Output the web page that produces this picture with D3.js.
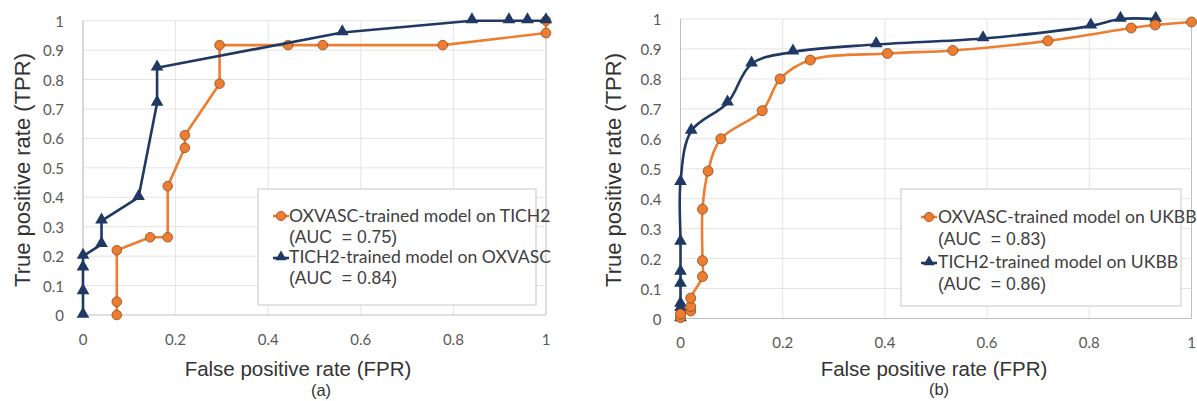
<!DOCTYPE html>
<html>
<head>
<meta charset="utf-8">
<script src="https://cdn.jsdelivr.net/npm/d3@7"></script>
<style>
  body { margin: 0; background: #fff; }
  text { white-space: pre; }
</style>
</head>
<body>
<svg id="chart" width="1197" height="401"></svg>
<script>
// panel (a): OXVASC model on TICH2 / TICH2 model on OXVASC
var fprOxvascOnTich2 = [0.073, 0.073, 0.073, 0.145, 0.183, 0.183, 0.22, 0.22, 0.295, 0.295, 0.443, 0.518, 0.777, 1.0, 1.0];
var tprOxvascOnTich2 = [0.0, 0.045, 0.22, 0.264, 0.264, 0.438, 0.568, 0.611, 0.786, 0.917, 0.917, 0.917, 0.917, 0.958, 1.0];
var fprTich2OnOxvasc = [0, 0, 0, 0, 0.04, 0.04, 0.12, 0.16, 0.16, 0.56, 0.84, 0.92, 0.96, 1.0];
var tprTich2OnOxvasc = [0, 0.08, 0.16, 0.2, 0.24, 0.32, 0.4, 0.72, 0.84, 0.96, 1.0, 1.0, 1.0, 1.0];

// panel (b): both models on UKBB
var fprOxvascOnUkbb = [0, 0, 0.02, 0.02, 0.02, 0.043, 0.043, 0.043, 0.054, 0.079, 0.16, 0.195, 0.254, 0.405, 0.533, 0.719, 0.882, 0.929, 1.0];
var tprOxvascOnUkbb = [0.003, 0.015, 0.025, 0.04, 0.068, 0.14, 0.193, 0.365, 0.492, 0.6, 0.694, 0.8, 0.863, 0.885, 0.895, 0.927, 0.97, 0.98, 0.99];
var fprTich2OnUkbb = [0, 0, 0, 0, 0, 0, 0, 0.021, 0.092, 0.139, 0.22, 0.383, 0.592, 0.803, 0.861, 0.93];
var tprTich2OnUkbb = [0, 0.034, 0.048, 0.115, 0.155, 0.255, 0.455, 0.626, 0.72, 0.85, 0.89, 0.915, 0.935, 0.977, 1.0, 1.0];

var xTicks = [0, 0.2, 0.4, 0.6, 0.8, 1];
var yTicks = [0, 0.1, 0.2, 0.3, 0.4, 0.5, 0.6, 0.7, 0.8, 0.9, 1];

var legendA = ["OXVASC-trained model on TICH2", "(AUC  = 0.75)", "TICH2-trained model on OXVASC", "(AUC  = 0.84)"];
var legendB = ["OXVASC-trained model on UKBB", "(AUC  = 0.83)", "TICH2-trained model on UKBB", "(AUC  = 0.86)"];

var orange = "#ED7D31", navy = "#1F3864";
var svg = d3.select("#chart");

var zip = function(xs, ys) { return xs.map(function(x, i) { return [x, ys[i]]; }); };

var drawPanel = function(p)
{
  var x = d3.scaleLinear().domain([0, 1]).range([p.left, p.right]);
  var y = d3.scaleLinear().domain([0, 1]).range([p.bottom, p.top]);
  var g = svg.append("g");

  // grid
  g.selectAll(".vg").data(xTicks).enter().append("line")
    .attr("x1", function(d) { return x(d); }).attr("x2", function(d) { return x(d); })
    .attr("y1", p.top).attr("y2", p.bottom)
    .attr("stroke", function(d) { return d == 1 ? "#bfbfbf" : "#e3e3e3"; }).attr("stroke-width", 1);
  g.selectAll(".hg").data(yTicks).enter().append("line")
    .attr("x1", p.left).attr("x2", p.right)
    .attr("y1", function(d) { return y(d); }).attr("y2", function(d) { return y(d); })
    .attr("stroke", function(d) { return d == 0 ? "#bfbfbf" : "#e3e3e3"; }).attr("stroke-width", 1);
  g.append("line").attr("x1", p.left).attr("x2", p.left).attr("y1", p.top).attr("y2", p.bottom)
    .attr("stroke", "#bfbfbf");

  // tick labels
  g.selectAll(".xt").data(xTicks).enter().append("text")
    .attr("x", function(d) { return x(d); }).attr("y", p.xTickY)
    .attr("text-anchor", "middle").attr("dominant-baseline", "central")
    .attr("font-family", "Lato, 'Open Sans', sans-serif").attr("font-size", 15).attr("fill", "#595959")
    .text(function(d) { return d3.format("~g")(d); });
  g.selectAll(".yt").data(yTicks).enter().append("text")
    .attr("x", p.left - 19).attr("y", function(d) { return y(d); })
    .attr("text-anchor", "end").attr("dominant-baseline", "central")
    .attr("font-family", "Lato, 'Open Sans', sans-serif").attr("font-size", 15).attr("fill", "#595959")
    .text(function(d) { return d3.format("~g")(d); });

  // axis titles
  g.append("text").attr("x", p.xTitleX).attr("y", 368)
    .attr("text-anchor", "middle").attr("dominant-baseline", "central")
    .attr("font-family", "'Liberation Sans', Arial, sans-serif").attr("font-size", 20.5).attr("fill", "#333")
    .text("False positive rate (FPR)");
  g.append("text").attr("transform", "translate(" + p.yTitleX + ",170) rotate(-90)")
    .attr("text-anchor", "middle")
    .attr("font-family", "'Liberation Sans', Arial, sans-serif").attr("font-size", 22).attr("fill", "#333")
    .text("True positive rate (TPR)");
  g.append("text").attr("x", p.capX).attr("y", p.capY)
    .attr("text-anchor", "middle").attr("dominant-baseline", "central")
    .attr("font-family", "'Liberation Sans', Arial, sans-serif").attr("font-size", 16.5).attr("fill", "#333")
    .text(p.caption);

  var line = d3.line()
    .x(function(d) { return x(d[0]); })
    .y(function(d) { return y(d[1]); })
    .curve(p.smooth ? d3.curveCatmullRom.alpha(0.5) : d3.curveLinear);

  var tri = d3.symbol().type(d3.symbolTriangle).size(p.triSize);

  var drawSeries = function(s)
  {
    var pts = zip(s.xs, s.ys);
    g.append("path").datum(pts).attr("d", line)
      .attr("fill", "none").attr("stroke", s.color).attr("stroke-width", 2.6)
      .attr("stroke-linejoin", "round");
    if (s.kind == "circle") {
      g.selectAll(null).data(pts).enter().append("circle")
        .attr("cx", function(d) { return x(d[0]); }).attr("cy", function(d) { return y(d[1]); })
        .attr("r", p.circR).attr("fill", orange).attr("stroke", "#8f4a1c").attr("stroke-width", 0.8);
    } else {
      g.selectAll(null).data(pts).enter().append("path")
        .attr("d", tri)
        .attr("transform", function(d) { return "translate(" + x(d[0]) + "," + (y(d[1]) - 1) + ")"; })
        .attr("fill", navy);
    }
  };
  p.series.forEach(drawSeries);

  // legend
  var L = p.legend;
  g.append("rect").attr("x", L.x0).attr("y", L.y0).attr("width", L.x1 - L.x0).attr("height", L.y1 - L.y0)
    .attr("fill", "#fff").attr("stroke", "#cfcfcf").attr("stroke-width", 1.2);
  g.append("line").attr("x1", L.mx - 8).attr("x2", L.mx + 8).attr("y1", L.rows[0] - 6).attr("y2", L.rows[0] - 6)
    .attr("stroke", orange).attr("stroke-width", 2.6);
  g.append("circle").attr("cx", L.mx).attr("cy", L.rows[0] - 6).attr("r", 4.6)
    .attr("fill", orange).attr("stroke", "#8f4a1c").attr("stroke-width", 0.8);
  g.append("line").attr("x1", L.mx - 8).attr("x2", L.mx + 8).attr("y1", L.rows[2] - 5).attr("y2", L.rows[2] - 5)
    .attr("stroke", navy).attr("stroke-width", 2.6);
  g.append("path").attr("d", d3.symbol().type(d3.symbolTriangle).size(55))
    .attr("transform", "translate(" + L.mx + "," + (L.rows[2] - 6) + ")").attr("fill", navy);
  g.selectAll(".lg").data(L.texts).enter().append("text")
    .attr("x", L.tx).attr("y", function(d, i) { return L.rows[i]; })
    .attr("font-family", function(d, i) { return i % 2 == 0 ? "Lato, 'Open Sans', sans-serif" : "'Liberation Sans', Arial, sans-serif"; })
    .attr("font-size", 17.6)
    .attr("fill", "#404040")
    .text(function(d) { return d; });
};

drawPanel({
  left: 83, right: 546, top: 20.7, bottom: 315,
  xTickY: 339, xTitleX: 298, yTitleX: 30, capX: 321, capY: 390, caption: "(a)",
  smooth: false, circR: 4.8, triSize: 70,
  series: [
    {xs: fprOxvascOnTich2, ys: tprOxvascOnTich2, color: orange, kind: "circle"},
    {xs: fprTich2OnOxvasc, ys: tprTich2OnOxvasc, color: navy, kind: "tri"}
  ],
  legend: {x0: 258, x1: 536, y0: 189, y1: 305, mx: 281, tx: 289, rows: [222, 243, 263, 284], texts: legendA}
});

drawPanel({
  left: 680.5, right: 1191.5, top: 19, bottom: 318.5,
  xTickY: 342, xTitleX: 934, yTitleX: 621, capX: 939, capY: 389, caption: "(b)",
  smooth: true, circR: 5, triSize: 70,
  series: [
    {xs: fprTich2OnUkbb, ys: tprTich2OnUkbb, color: navy, kind: "tri"},
    {xs: fprOxvascOnUkbb, ys: tprOxvascOnUkbb, color: orange, kind: "circle"}
  ],
  legend: {x0: 901, x1: 1181, y0: 189, y1: 306, mx: 929, tx: 938, rows: [223, 245, 268, 290], texts: legendB}
});
</script>
</body>
</html>
